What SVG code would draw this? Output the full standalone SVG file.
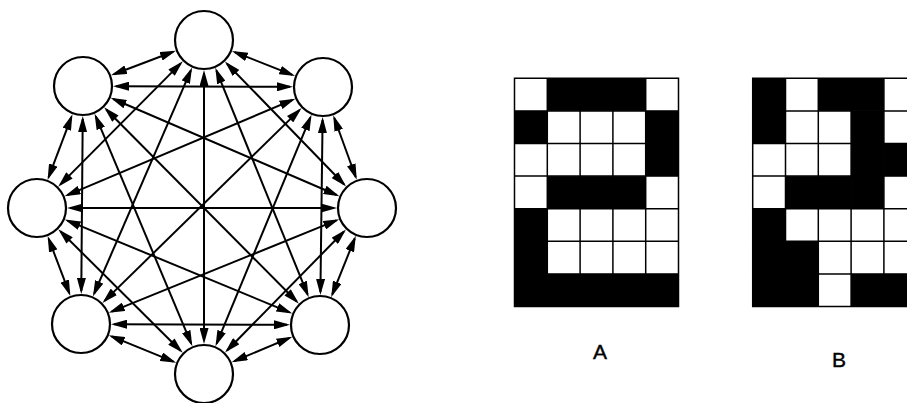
<svg xmlns="http://www.w3.org/2000/svg" width="907" height="403" viewBox="0 0 907 403">
<style>
.node{fill:#fff;stroke:#000;stroke-width:2.2}
.edge{stroke:#000;stroke-width:2;fill:none;marker-start:url(#ah);marker-end:url(#ah)}
.blk{fill:#000}
.grid{stroke:#000;stroke-width:1.5;fill:none}
.lbl{font-family:"Liberation Sans",Arial,sans-serif;font-size:21px;fill:#000;stroke:#000;stroke-width:0.4;text-anchor:middle}
</style>
<defs>
<marker id="ah" viewBox="0 0 16 9" refX="13" refY="4.5" markerWidth="16" markerHeight="9" markerUnits="userSpaceOnUse" orient="auto-start-reverse">
<path d="M0,0 L16,4.5 L0,9 z" fill="#000"/>
</marker>
</defs>
<rect width="907" height="403" fill="#fff"/>
<g id="connectors">
<line class="edge" x1="234.69" y1="52.12" x2="292.31" y2="74.88"/>
<line class="edge" x1="226.98" y1="63.68" x2="344.02" y2="184.32"/>
<line class="edge" x1="216.44" y1="70.57" x2="307.56" y2="294.43"/>
<line class="edge" x1="204" y1="73" x2="204" y2="341"/>
<line class="edge" x1="190.88" y1="70.28" x2="94.12" y2="293.72"/>
<line class="edge" x1="180.73" y1="63.40" x2="60.27" y2="184.60"/>
<line class="edge" x1="173.15" y1="51.73" x2="113.85" y2="74.27"/>
<line class="edge" x1="334.28" y1="118.01" x2="355.72" y2="176.99"/>
<line class="edge" x1="322.58" y1="120" x2="320.42" y2="292"/>
<line class="edge" x1="310.36" y1="117.48" x2="216.64" y2="343.52"/>
<line class="edge" x1="299.42" y1="110.09" x2="104.58" y2="300.91"/>
<line class="edge" x1="292.61" y1="99.86" x2="67.39" y2="195.14"/>
<line class="edge" x1="290" y1="86.86" x2="116" y2="86.14"/>
<line class="edge" x1="354.70" y1="238.62" x2="332.30" y2="294.38"/>
<line class="edge" x1="343.88" y1="231.55" x2="227.12" y2="350.45"/>
<line class="edge" x1="336.42" y1="220.40" x2="111.58" y2="311.60"/>
<line class="edge" x1="334" y1="208" x2="70" y2="208"/>
<line class="edge" x1="336.68" y1="194.97" x2="113.32" y2="99.03"/>
<line class="edge" x1="289.60" y1="337.84" x2="234.40" y2="361.16"/>
<line class="edge" x1="287" y1="324.86" x2="114" y2="324.14"/>
<line class="edge" x1="289.50" y1="312.39" x2="67.50" y2="220.61"/>
<line class="edge" x1="296.76" y1="301.57" x2="106.24" y2="109.43"/>
<line class="edge" x1="173.43" y1="361.57" x2="111.57" y2="336.43"/>
<line class="edge" x1="180.60" y1="350.74" x2="60.40" y2="231.26"/>
<line class="edge" x1="191.22" y1="343.58" x2="95.78" y2="116.42"/>
<line class="edge" x1="69.30" y1="293.14" x2="48.70" y2="238.86"/>
<line class="edge" x1="81.28" y1="291" x2="82.72" y2="119"/>
<line class="edge" x1="48.64" y1="177.12" x2="71.36" y2="117.12"/>
</g>
<g id="n0"><circle class="node" cx="204" cy="40" r="29"/></g>
<g id="n1"><circle class="node" cx="323" cy="87" r="29"/></g>
<g id="n2"><circle class="node" cx="367" cy="208" r="29"/></g>
<g id="n3"><circle class="node" cx="320" cy="325" r="29"/></g>
<g id="n4"><circle class="node" cx="204" cy="374" r="29"/></g>
<g id="n5"><circle class="node" cx="81" cy="324" r="29"/></g>
<g id="n6"><circle class="node" cx="37" cy="208" r="29"/></g>
<g id="n7"><circle class="node" cx="83" cy="86" r="29"/></g>
<g id="gridA" transform="translate(514.5,78.3)">
<rect x="0" y="0" width="164" height="228.2" fill="#fff"/>
<rect class="blk" x="32.8" y="0" width="98.4" height="32.6"/>
<rect class="blk" x="0" y="32.6" width="32.8" height="32.6"/>
<rect class="blk" x="131.2" y="32.6" width="32.8" height="65.2"/>
<rect class="blk" x="32.8" y="97.8" width="98.4" height="32.6"/>
<rect class="blk" x="0" y="130.4" width="32.8" height="97.8"/>
<rect class="blk" x="0" y="195.6" width="164" height="32.6"/>
<path class="grid" d="M0,0H164V228.2H0Z M32.8,0V228.2 M65.6,0V228.2 M98.4,0V228.2 M131.2,0V228.2 M0,32.6H164 M0,65.2H164 M0,97.8H164 M0,130.4H164 M0,163H164 M0,195.6H164"/>
</g>
<g id="gridB" transform="translate(752.7,78.3)">
<rect x="0" y="0" width="164" height="228.2" fill="#fff"/>
<rect class="blk" x="0" y="0" width="32.8" height="65.2"/>
<rect class="blk" x="65.6" y="0" width="65.6" height="32.6"/>
<rect class="blk" x="98.4" y="32.6" width="32.8" height="97.8"/>
<rect class="blk" x="131.2" y="65.2" width="32.8" height="32.6"/>
<rect class="blk" x="32.8" y="97.8" width="65.6" height="32.6"/>
<rect class="blk" x="0" y="130.4" width="32.8" height="97.8"/>
<rect class="blk" x="32.8" y="163" width="32.8" height="65.2"/>
<rect class="blk" x="98.4" y="195.6" width="65.6" height="32.6"/>
<path class="grid" d="M0,0H164V228.2H0Z M32.8,0V228.2 M65.6,0V228.2 M98.4,0V228.2 M131.2,0V228.2 M0,32.6H164 M0,65.2H164 M0,97.8H164 M0,130.4H164 M0,163H164 M0,195.6H164"/>
</g>
<text class="lbl" x="600" y="359">A</text>
<text class="lbl" x="839" y="367">B</text>
</svg>
